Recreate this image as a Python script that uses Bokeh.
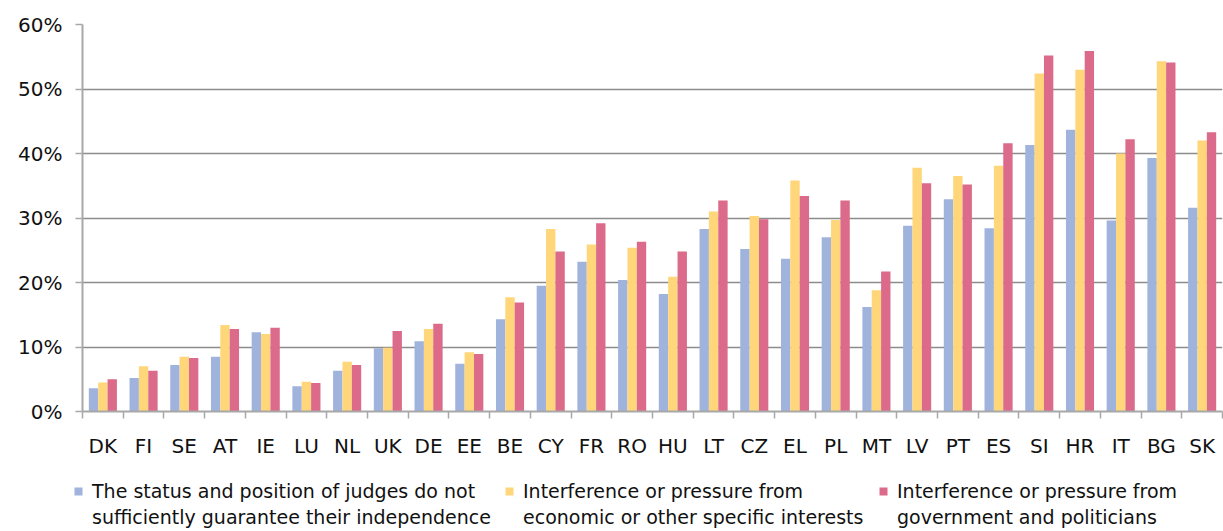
from bokeh.plotting import figure
from bokeh.layouts import column
from bokeh.models import (ColumnDataSource, Range1d, FixedTicker, PrintfTickFormatter,
                          Legend, LegendItem)
from bokeh.transform import dodge
from bokeh.embed import file_html
from bokeh.resources import INLINE

countries = ["DK", "FI", "SE", "AT", "IE", "LU", "NL", "UK", "DE", "EE", "BE", "CY", "FR", "RO",
             "HU", "LT", "CZ", "EL", "PL", "MT", "LV", "PT", "ES", "SI", "HR", "IT", "BG", "SK"]

# share of respondents (%) citing each reason for the perceived lack of judicial independence
status_of_judges = [3.6, 5.2, 7.2, 8.5, 12.3, 3.9, 6.3, 9.8, 10.9, 7.4, 14.3, 19.5, 23.2, 20.4,
                    18.2, 28.3, 25.2, 23.7, 27.0, 16.2, 28.8, 32.9, 28.4, 41.3, 43.7, 29.6, 39.3, 31.6]
economic_pressure = [4.5, 7.0, 8.5, 13.4, 12.0, 4.6, 7.7, 9.9, 12.8, 9.2, 17.7, 28.3, 25.9, 25.4,
                     20.9, 31.0, 30.3, 35.8, 29.7, 18.8, 37.8, 36.5, 38.1, 52.4, 53.0, 40.0, 54.3, 42.0]
government_pressure = [5.0, 6.3, 8.3, 12.8, 13.0, 4.4, 7.2, 12.5, 13.6, 8.9, 16.9, 24.8, 29.2, 26.3,
                       24.8, 32.7, 29.8, 33.4, 32.7, 21.7, 35.4, 35.2, 41.6, 55.2, 55.9, 42.2, 54.1, 43.3]

# legend texts, one entry per line
series_labels = [
    ("The status and position of judges do not", "sufficiently guarantee their independence"),
    ("Interference or pressure from", "economic or other specific interests"),
    ("Interference or pressure from", "government and politicians"),
]
y_ticks = [0, 10, 20, 30, 40, 50, 60]

BLUE = "#9fb3dd"
YELLOW = "#ffd679"
RED = "#dc6a8a"
COLORS = [BLUE, YELLOW, RED]
AXIS_GREY = "#a8a8a8"
GRID_GREY = "#8c8c8c"
FONT = "DejaVu Sans"
TEXT = "#111111"

n = len(countries)
centers = [i + 0.5 for i in range(n)]
source = ColumnDataSource(dict(x=centers, country=countries, status=status_of_judges,
                               economic=economic_pressure, government=government_pressure))

# ---- main bar chart -------------------------------------------------------
p = figure(width=1223, height=460, output_backend="svg", toolbar_location=None,
           x_range=Range1d(0, n), y_range=Range1d(0, 60),
           min_border_left=82, min_border_right=1, min_border_top=24, min_border_bottom=49)
p.frame_align = False
p.outline_line_color = None
p.background_fill_color = "white"
p.border_fill_color = "white"

bar_w = 0.23
for col, off, color in zip(["status", "economic", "government"], [-bar_w, 0, bar_w], COLORS):
    p.vbar(x=dodge("x", off, range=p.x_range), top=col, width=bar_w, source=source,
           fill_color=color, line_color=None)

# x axis: country codes at centres, tick marks at the group boundaries
xax = p.xaxis[0]
xax.ticker = FixedTicker(ticks=centers, minor_ticks=list(range(n + 1)))
xax.major_label_overrides = {c: lab for c, lab in zip(centers, countries)}
xax.major_tick_out = 0
xax.major_tick_in = 0
xax.minor_tick_out = 7
xax.minor_tick_in = 0
xax.minor_tick_line_color = AXIS_GREY
xax.minor_tick_line_width = 1.5
xax.axis_line_color = AXIS_GREY
xax.axis_line_width = 2
xax.major_label_text_font = FONT
xax.major_label_text_font_size = "20px"
xax.major_label_text_color = TEXT
xax.major_label_standoff = 15

yax = p.yaxis[0]
yax.ticker = FixedTicker(ticks=y_ticks)
yax.formatter = PrintfTickFormatter(format="%d%%")
yax.major_tick_out = 7
yax.major_tick_in = 0
yax.minor_tick_out = 0
yax.minor_tick_in = 0
yax.major_tick_line_color = AXIS_GREY
yax.major_tick_line_width = 1.5
yax.axis_line_color = AXIS_GREY
yax.axis_line_width = 2
yax.major_label_text_font = FONT
yax.major_label_text_font_size = "20px"
yax.major_label_text_color = TEXT
yax.major_label_standoff = 13

p.xgrid.grid_line_color = None
p.ygrid.ticker = FixedTicker(ticks=y_ticks)
p.ygrid.grid_line_color = GRID_GREY
p.ygrid.grid_line_width = 1.3

# ---- legend strip under the chart ----------------------------------------
leg = figure(width=1223, height=71, output_backend="svg", toolbar_location=None,
             x_range=Range1d(0, 1), y_range=Range1d(0, 1),
             min_border_left=0, min_border_right=0, min_border_top=0, min_border_bottom=0)
leg.frame_align = False
leg.axis.visible = False
leg.grid.visible = False
leg.outline_line_color = None
leg.background_fill_color = "white"
leg.border_fill_color = "white"

legend_x = [73, 504, 878]
for color, (line1, line2), lx in zip(COLORS, series_labels, legend_x):
    # zero-height swatch renderers: only their legend entries are visible
    swatch = leg.vbar(x=[0.5], top=[0], bottom=[0], width=0.01, fill_color=color, line_color=None)
    blank = leg.vbar(x=[0.5], top=[0], bottom=[0], width=0.01, fill_alpha=0, line_color=None)
    lg = Legend(items=[LegendItem(label=line1, renderers=[swatch]),
                       LegendItem(label=line2, renderers=[blank])],
                location=(lx, 3), orientation="vertical",
                border_line_color=None, background_fill_alpha=0,
                glyph_width=10, glyph_height=10, label_standoff=9,
                label_text_font=FONT, label_text_font_size="19px",
                label_text_color=TEXT, label_height=22,
                padding=0, margin=0, spacing=4)
    leg.add_layout(lg, "center")

open("out.html", "w").write(file_html(column(p, leg, spacing=0), INLINE))
